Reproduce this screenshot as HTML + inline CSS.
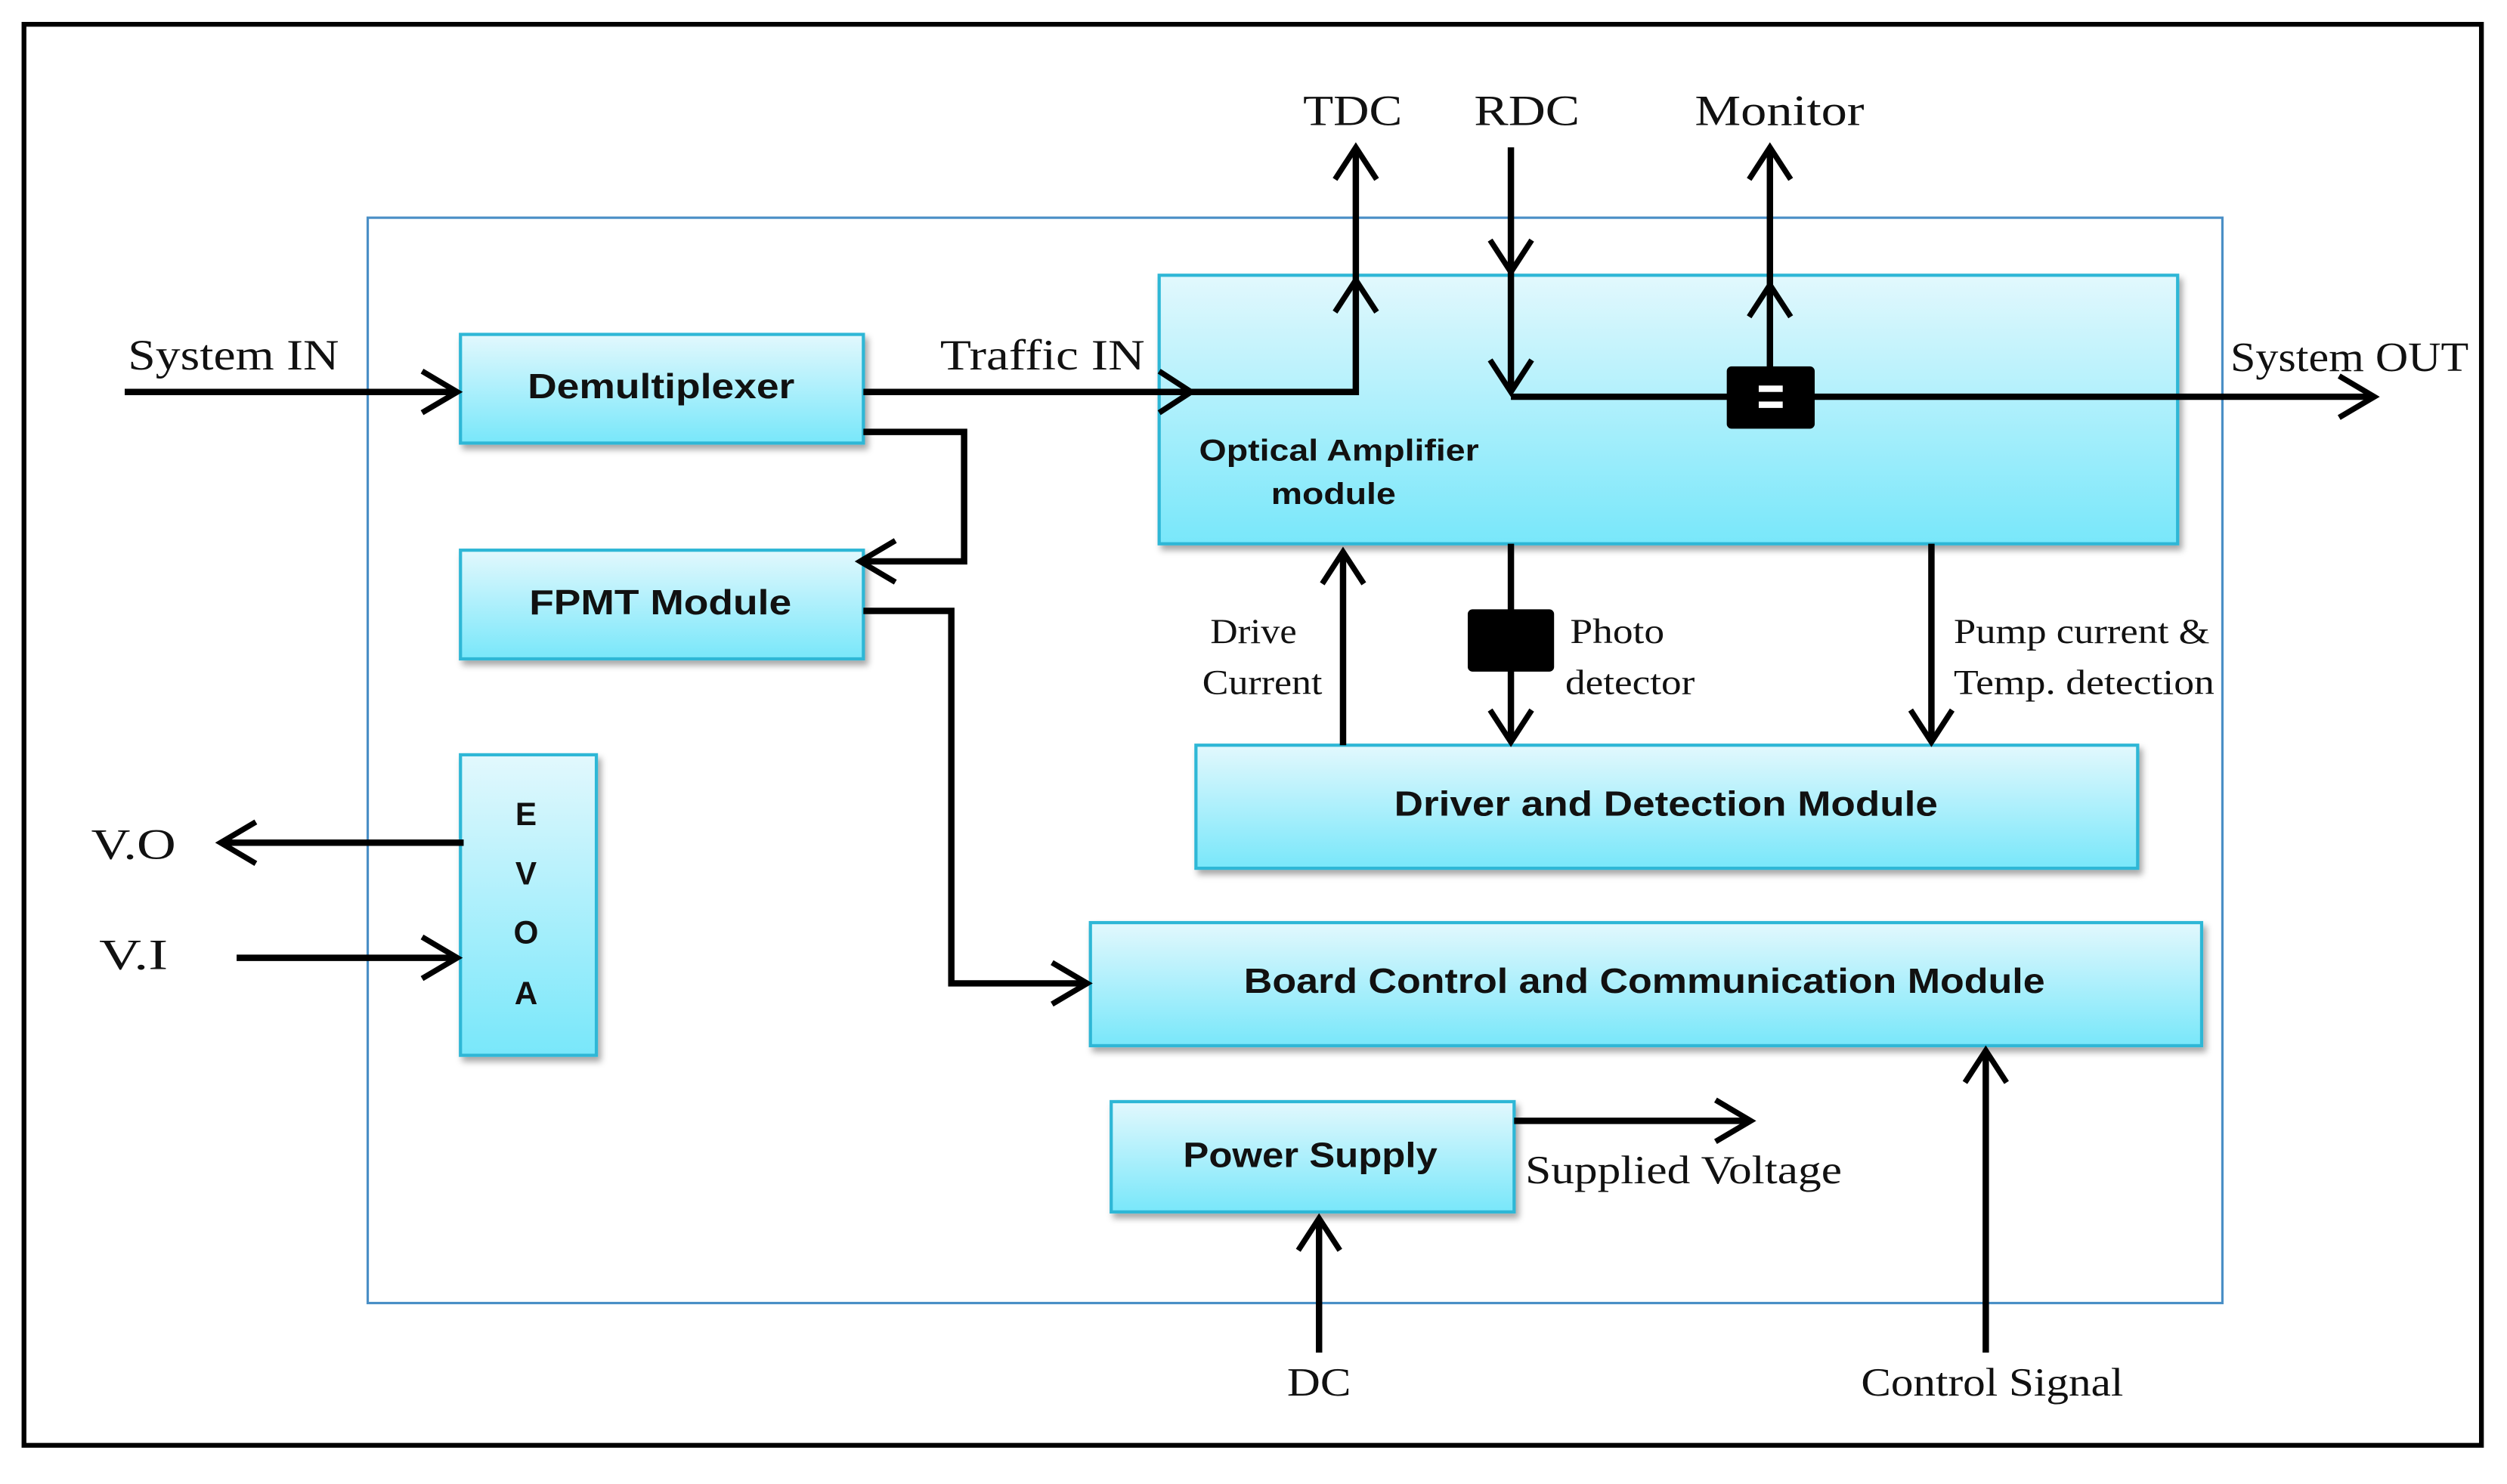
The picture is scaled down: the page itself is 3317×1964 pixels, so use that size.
<!DOCTYPE html>
<html><head><style>html,body{margin:0;padding:0;background:#fff}svg{display:block}</style></head>
<body>
<svg width="3317" height="1964" viewBox="0 0 1568 928" xmlns="http://www.w3.org/2000/svg">
<defs>
<linearGradient id="g" x1="0" y1="0" x2="0" y2="1"><stop offset="0" stop-color="#e2f8fd"/><stop offset="1" stop-color="#78e7fa"/></linearGradient>
<filter id="s" x="-5%" y="-5%" width="115%" height="130%"><feDropShadow dx="2" dy="3" stdDeviation="2" flood-color="#000" flood-opacity="0.35"/></filter>
</defs>
<rect width="1568" height="928" fill="#fff"/>
<rect x="15" y="15" width="1537" height="889" fill="none" stroke="#000" stroke-width="3"/>
<rect x="230" y="136" width="1160" height="679" fill="none" stroke="#4a8fc6" stroke-width="1.5"/>
<g fill="url(#g)" stroke="#2fb7d6" stroke-width="2" filter="url(#s)">
<rect x="288" y="209" width="252" height="68"/>
<rect x="288" y="344" width="252" height="68"/>
<rect x="288" y="472" width="85" height="188"/>
<rect x="725" y="172" width="637" height="168"/>
<rect x="748" y="466" width="589" height="77"/>
<rect x="682" y="577" width="695" height="77"/>
<rect x="695" y="689" width="252" height="69"/>
</g>
<g stroke="#000" stroke-width="4" fill="none" stroke-linejoin="miter">
<path d="M78 245H286"/><path d="M540 245H745M745 245H848V92"/>
<path d="M945 92V245M945 248H1485"/><path d="M1107 230V92"/>
<path d="M540 270H603V351H538"/><path d="M540 382H595V615H680"/>
<path d="M290 527H138"/><path d="M148 599H286"/>
<path d="M840 466V345"/><path d="M945 340V464"/><path d="M1208 340V464"/>
<path d="M947 701H1095"/><path d="M825 846V762"/><path d="M1242 846V657"/>
<g stroke-width="3.5">
<path d="M264 232L286 245L264 258"/><path d="M725 232L745 245L725 258"/>
<path d="M835 112L848 92L861 112"/><path d="M835 195L848 175L861 195"/>
<path d="M932 150L945 170L958 150"/><path d="M932 225L945 245L958 225"/>
<path d="M1094 112L1107 92L1120 112"/><path d="M1094 198L1107 178L1120 198"/>
<path d="M1463 235L1485 248L1463 261"/><path d="M560 338L538 351L560 364"/>
<path d="M658 602L680 615L658 628"/><path d="M160 514L138 527L160 540"/>
<path d="M264 586L286 599L264 612"/><path d="M827 365L840 345L853 365"/>
<path d="M932 444L945 464L958 444"/><path d="M1195 444L1208 464L1221 444"/>
<path d="M1073 688L1095 701L1073 714"/><path d="M812 782L825 762L838 782"/>
<path d="M1229 677L1242 657L1255 677"/>
</g>
</g>
<rect x="1080" y="229" width="55" height="39" rx="3" fill="#000"/>
<rect x="1100" y="241" width="15" height="4" fill="#fff"/><rect x="1100" y="251" width="15" height="4" fill="#fff"/>
<rect x="918" y="381" width="54" height="39" rx="3" fill="#000"/>
<g font-family="Liberation Sans, sans-serif" font-weight="bold" fill="#111" lengthAdjust="spacingAndGlyphs">
<text x="330" y="249" font-size="22" textLength="167" lengthAdjust="spacingAndGlyphs">Demultiplexer</text>
<text x="331" y="384" font-size="22" textLength="164" lengthAdjust="spacingAndGlyphs">FPMT Module</text>
<text x="329" y="516" font-size="20" text-anchor="middle">E</text><text x="329" y="553" font-size="20" text-anchor="middle">V</text>
<text x="329" y="590" font-size="20" text-anchor="middle">O</text><text x="329" y="628" font-size="20" text-anchor="middle">A</text>
<text x="750" y="288" font-size="19" textLength="175" lengthAdjust="spacingAndGlyphs">Optical  Amplifier</text>
<text x="795" y="315" font-size="19" textLength="78" lengthAdjust="spacingAndGlyphs">module</text>
<text x="872" y="510" font-size="22" textLength="340" lengthAdjust="spacingAndGlyphs">Driver and Detection Module</text>
<text x="778" y="621" font-size="22" textLength="501" lengthAdjust="spacingAndGlyphs">Board  Control and Communication Module</text>
<text x="740" y="730" font-size="22" textLength="159" lengthAdjust="spacingAndGlyphs">Power Supply</text>
</g>
<g font-family="Liberation Serif, serif" fill="#111">
<text x="80" y="231" font-size="27" textLength="132" lengthAdjust="spacingAndGlyphs">System IN</text>
<text x="588" y="231" font-size="27" textLength="128" lengthAdjust="spacingAndGlyphs">Traffic IN</text>
<text x="815" y="78" font-size="27" textLength="62" lengthAdjust="spacingAndGlyphs">TDC</text>
<text x="922" y="78" font-size="27" textLength="66" lengthAdjust="spacingAndGlyphs">RDC</text>
<text x="1060" y="78" font-size="27" textLength="106" lengthAdjust="spacingAndGlyphs">Monitor</text>
<text x="1395" y="232" font-size="26" textLength="149" lengthAdjust="spacingAndGlyphs">System OUT</text>
<text x="57" y="537" font-size="27" textLength="53" lengthAdjust="spacingAndGlyphs">V.O</text>
<text x="62" y="606" font-size="27" textLength="43" lengthAdjust="spacingAndGlyphs">V.I</text>
<text x="757" y="402" font-size="22" textLength="54" lengthAdjust="spacingAndGlyphs">Drive</text>
<text x="752" y="434" font-size="22" textLength="75" lengthAdjust="spacingAndGlyphs">Current</text>
<text x="982" y="402" font-size="22" textLength="59" lengthAdjust="spacingAndGlyphs">Photo</text>
<text x="979" y="434" font-size="22" textLength="81" lengthAdjust="spacingAndGlyphs">detector</text>
<text x="1222" y="402" font-size="22" textLength="160" lengthAdjust="spacingAndGlyphs">Pump current &amp;</text>
<text x="1222" y="434" font-size="22" textLength="163" lengthAdjust="spacingAndGlyphs">Temp. detection</text>
<text x="954" y="740" font-size="25" textLength="198" lengthAdjust="spacingAndGlyphs">Supplied Voltage</text>
<text x="805" y="873" font-size="25" textLength="40" lengthAdjust="spacingAndGlyphs">DC</text>
<text x="1164" y="873" font-size="25" textLength="164" lengthAdjust="spacingAndGlyphs">Control Signal</text>
</g>
</svg>
</body></html>
